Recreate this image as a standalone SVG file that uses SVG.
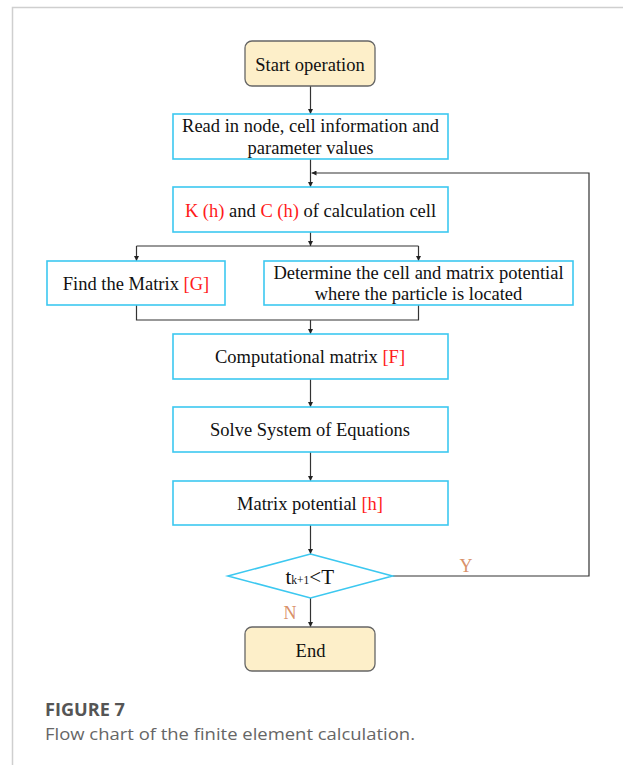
<svg xmlns="http://www.w3.org/2000/svg" width="623" height="765" viewBox="0 0 623 765">
<defs>
<marker id="ah" viewBox="0 0 8 8" refX="8" refY="4" markerWidth="5" markerHeight="5" orient="auto" markerUnits="userSpaceOnUse">
<path d="M0,0 L8,4 L0,8 z" fill="#222"/>
</marker>
<style>
.box{fill:#fff;stroke:#3cc8f0;stroke-width:1.6}
.term{fill:#fdefc9;stroke:#666;stroke-width:1.3}
.t{font-family:"Liberation Serif","Times New Roman",serif;font-size:18.5px;fill:#111;text-anchor:middle}
.r{fill:#ff1a1a}
.yn{font-family:"Liberation Serif","Times New Roman",serif;font-size:18px;fill:#d9916a;text-anchor:middle}
.c{fill:none;stroke:#333;stroke-width:1.2}
.cap1{font-family:"Open Sans","Liberation Sans",sans-serif;font-size:18px;font-weight:bold;fill:#555}
.cap2{font-family:"Open Sans","Liberation Sans",sans-serif;font-size:17px;fill:#666}
</style>
</defs>
<rect width="623" height="765" fill="#fff"/>
<path d="M12.5,765 V7.5 H623" fill="none" stroke="#cfcfcf" stroke-width="1.5"/>

<g id="connectors">
<path class="c" d="M310.5,86 V114" marker-end="url(#ah)"/>
<path class="c" d="M310.5,159 V187" marker-end="url(#ah)"/>
<path class="c" d="M310.5,232 V246" marker-end="url(#ah)"/>
<path class="c" d="M136.5,246 H418.5"/>
<path class="c" d="M136.5,246 V261" marker-end="url(#ah)"/>
<path class="c" d="M418.5,246 V261" marker-end="url(#ah)"/>
<path class="c" d="M136.5,305 V320 H418.5 V305"/>
<path class="c" d="M310.5,320 V334" marker-end="url(#ah)"/>
<path class="c" d="M310.5,379 V407" marker-end="url(#ah)"/>
<path class="c" d="M310.5,452 V481" marker-end="url(#ah)"/>
<path class="c" d="M310.5,525 V554" marker-end="url(#ah)"/>
<path class="c" d="M310.5,598 V627" marker-end="url(#ah)"/>
<path class="c" d="M392.5,576 H589 V173 H311.5" marker-end="url(#ah)"/>
<text class="yn" x="466" y="572">Y</text>
<text class="yn" x="290" y="618.5">N</text>
</g>

<g id="start">
<rect class="term" x="245" y="41" width="130" height="45" rx="7"/>
<text class="t" x="310" y="71">Start operation</text>
</g>

<g id="read">
<rect class="box" x="173" y="114" width="275" height="45"/>
<text class="t" x="310.5" y="132">Read in node, cell information and</text>
<text class="t" x="310.5" y="154">parameter values</text>
</g>

<g id="kc">
<rect class="box" x="173" y="187" width="275" height="45"/>
<text class="t" x="310.5" y="217"><tspan class="r">K (h)</tspan> and <tspan class="r">C (h)</tspan> of calculation cell</text>
</g>

<g id="findG">
<rect class="box" x="47" y="261" width="178" height="44"/>
<text class="t" x="136" y="290">Find the Matrix <tspan class="r">[G]</tspan></text>
</g>

<g id="determine">
<rect class="box" x="264" y="261" width="309" height="44"/>
<text class="t" x="418.5" y="279">Determine the cell and matrix potential</text>
<text class="t" x="418.5" y="300">where the particle is located</text>
</g>

<g id="compF">
<rect class="box" x="173" y="334" width="275" height="45"/>
<text class="t" x="310" y="363">Computational matrix <tspan class="r">[F]</tspan></text>
</g>

<g id="solve">
<rect class="box" x="173" y="407" width="275" height="45"/>
<text class="t" x="310" y="436">Solve System of Equations</text>
</g>

<g id="matrixH">
<rect class="box" x="173" y="481" width="275" height="44"/>
<text class="t" x="310" y="510">Matrix potential <tspan class="r">[h]</tspan></text>
</g>

<g id="decision">
<polygon points="310.5,554 392.5,576 310.5,598 228,576" fill="#fff" stroke="#3cc8f0" stroke-width="1.6"/>
<text x="285.5" y="584" font-family="Liberation Serif, Times New Roman, serif" font-size="21" fill="#111">t<tspan font-size="11.5">k+1</tspan>&lt;T</text>
</g>

<g id="end">
<rect class="term" x="245" y="627" width="130" height="44" rx="7"/>
<text class="t" x="310.5" y="657">End</text>
</g>

<text class="cap1" x="45" y="716" textLength="80" lengthAdjust="spacingAndGlyphs">FIGURE 7</text>
<text class="cap2" x="45" y="740" textLength="370" lengthAdjust="spacingAndGlyphs">Flow chart of the finite element calculation.</text>
</svg>
